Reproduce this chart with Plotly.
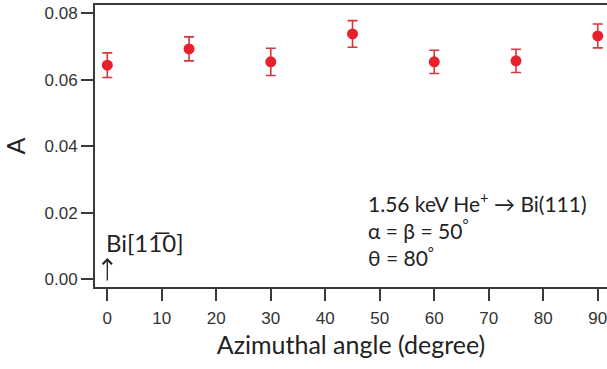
import plotly.graph_objects as go

angles = [0, 15, 30, 45, 60, 75, 90]
asym = [0.0644, 0.0693, 0.0654, 0.0738, 0.0654, 0.0657, 0.0732]
asym_err = [0.0037, 0.0036, 0.0041, 0.0040, 0.0035, 0.0035, 0.0036]
x_ticks = [0, 10, 20, 30, 40, 50, 60, 70, 80, 90]
y_ticks = [0.00, 0.02, 0.04, 0.06, 0.08]

axis_col = "#3a3a3a"
tick_font = dict(family="Liberation Sans, Arial, sans-serif", size=17, color="#333333")
text_font = dict(family="Lato, Open Sans, sans-serif", size=21, color="#222222")
title_font = dict(family="Lato, Open Sans, sans-serif", size=25, color="#222222")

fig = go.Figure()
fig.add_trace(go.Scatter(
    x=angles, y=asym, mode="markers",
    marker=dict(color="#e8202a", size=11, line=dict(width=0)),
    error_y=dict(type="data", array=asym_err, visible=True,
                 color="#d6373d", thickness=1.6, width=5),
    showlegend=False,
))

fig.update_layout(
    width=607, height=369,
    margin=dict(l=95, r=0, t=5, b=82),
    paper_bgcolor="white", plot_bgcolor="white",
    xaxis=dict(
        range=[-2.26, 91.7], tickvals=x_ticks, ticks="outside", ticklen=12,
        tickwidth=1.5, tickcolor=axis_col, showline=True, linecolor=axis_col,
        linewidth=2, mirror=True, showgrid=False, zeroline=False,
        tickfont=tick_font, ticklabelstandoff=3, ticklabeloverflow="allow",
        title=dict(text="Azimuthal angle (degree)", font=title_font, standoff=9),
    ),
    yaxis=dict(
        range=[-0.0023, 0.0825], tickvals=y_ticks, tickformat=".2f",
        ticks="outside", ticklen=12, tickwidth=1.5, tickcolor=axis_col,
        showline=True, linecolor=axis_col, linewidth=2, mirror=False,
        showgrid=False, zeroline=False, tickfont=tick_font,
        title=dict(text="A", font=title_font, standoff=12),
    ),
)

fig.add_annotation(x=0, y=0.0064, ax=0, ay=24, text="", showarrow=True,
                   arrowhead=4, arrowsize=1.4, arrowwidth=1.3, arrowcolor="#222222")
fig.add_annotation(x=0, y=0.0110, xanchor="left", yanchor="middle", xshift=-3,
                   text="Bi[11\u03050]", showarrow=False,
                   font=dict(family="Lato, Open Sans, sans-serif", size=24, color="#222222"))
fig.add_annotation(x=47.5, y=0.0152, xanchor="left", yanchor="middle", align="left",
                   text="1.56 keV He<sup>+</sup> → Bi(111)<br>α = β = 50<sup>°</sup><br>θ = 80<sup>°</sup>",
                   showarrow=False, font=text_font)

fig.write_html("out.html")
